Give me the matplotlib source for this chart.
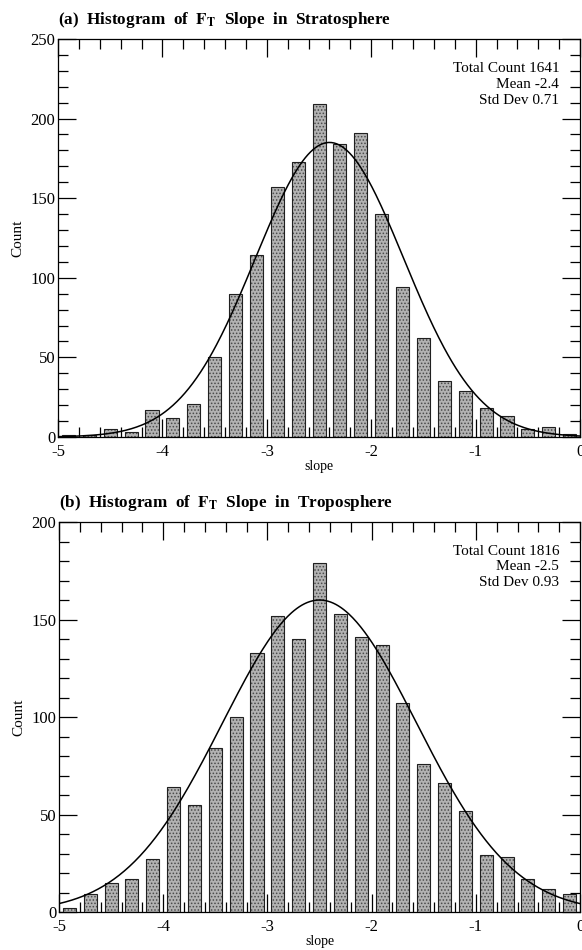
import numpy as np
import matplotlib
matplotlib.use("Agg")
import matplotlib.pyplot as plt
from matplotlib.ticker import MultipleLocator

plt.rcParams['font.family'] = ['Liberation Serif', 'DejaVu Serif']
plt.rcParams['mathtext.fontset'] = 'stix'
plt.rcParams['axes.unicode_minus'] = False
plt.rcParams['hatch.linewidth'] = 0.7

# bin centres (slope), width 0.2
centers = [-4.9, -4.7, -4.5, -4.3, -4.1, -3.9, -3.7, -3.5, -3.3, -3.1, -2.9, -2.7, -2.5,
           -2.3, -2.1, -1.9, -1.7, -1.5, -1.3, -1.1, -0.9, -0.7, -0.5, -0.3, -0.1]

# (a) stratosphere
strat_counts = [1, 1, 5, 3, 17, 12, 21, 50, 90, 114, 157, 173, 209,
                184, 191, 140, 94, 62, 35, 29, 18, 13, 5, 6, 2]
strat_stats = ["Total Count 1641", "Mean -2.4", "Std Dev 0.71"]
strat_mean, strat_std, strat_peak = -2.4, 0.71, 185

# (b) troposphere
trop_counts = [2, 9, 15, 17, 27, 64, 55, 84, 100, 133, 152, 140, 179,
               153, 141, 137, 107, 76, 66, 52, 29, 28, 17, 12, 9]
trop_stats = ["Total Count 1816", "Mean -2.5", "Std Dev 0.93"]
trop_mean, trop_std, trop_peak = -2.5, 0.93, 160


def panel(ax, counts, stats, mu, sd, peak, ymax, title):
    # stippled grey bars with dark outline
    ax.bar(centers, counts, width=0.125, color='#b2b2b2', edgecolor='#4a4a4a',
           hatch='.....', linewidth=0, zorder=2)
    ax.bar(centers, counts, width=0.125, fill=False, edgecolor='#202020',
           linewidth=0.8, zorder=3)
    xs = np.linspace(-5, 0, 400)
    ax.plot(xs, peak * np.exp(-0.5 * ((xs - mu) / sd) ** 2), color='black', lw=1.1, zorder=4)

    ax.set_xlim(-5, 0)
    ax.set_ylim(0, ymax)
    ax.xaxis.set_major_locator(MultipleLocator(1))
    ax.xaxis.set_minor_locator(MultipleLocator(0.2))
    ax.yaxis.set_major_locator(MultipleLocator(50))
    ax.yaxis.set_minor_locator(MultipleLocator(10))
    ax.tick_params(which='both', direction='in', top=True, right=True, labelsize=12, width=0.9)
    ax.tick_params(which='major', length=13)
    ax.tick_params(axis='x', which='major', pad=5)
    ax.tick_params(axis='y', which='major', pad=2)
    ax.tick_params(which='minor', length=7)
    for s in ax.spines.values():
        s.set_linewidth(0.9)

    ax.set_xlabel('slope', fontsize=10, labelpad=0)
    ax.set_ylabel('Count', fontsize=11, labelpad=4)
    ax.text(0.0, 1.022, title, transform=ax.transAxes, ha='left', va='bottom',
            fontsize=12.3, fontweight='bold')
    for i, s in enumerate(stats):
        ax.text(0.96, 0.925 - i * 0.04, s, transform=ax.transAxes, ha='right', va='center',
                fontsize=11)


fig = plt.figure(figsize=(5.82, 9.5), dpi=100)
ax1 = fig.add_axes([0.0997, 0.54, 0.897, 0.419])
ax2 = fig.add_axes([0.1014, 0.04, 0.8952, 0.4105])

panel(ax1, strat_counts, strat_stats, strat_mean, strat_std, strat_peak, 250,
      r'(a)  Histogram  of  $\mathbf{F_T}$  Slope  in  Stratosphere')
panel(ax2, trop_counts, trop_stats, trop_mean, trop_std, trop_peak, 200,
      r'(b)  Histogram  of  $\mathbf{F_T}$  Slope  in  Troposphere')

fig.savefig('out.png', dpi=100)
